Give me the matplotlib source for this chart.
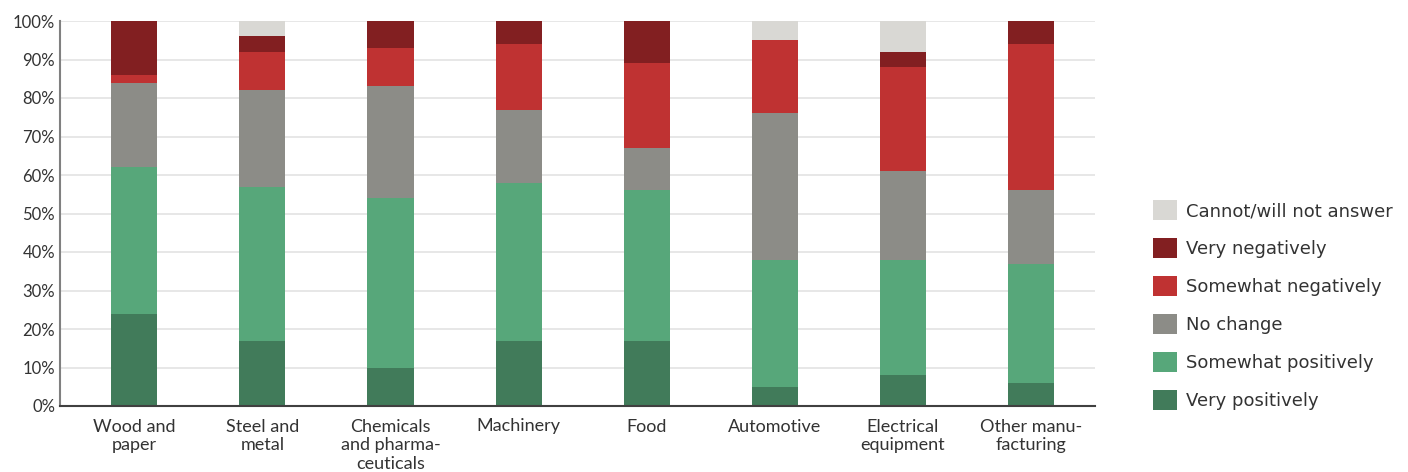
import matplotlib.pyplot as plt
import numpy as np

# Sectors and response shares (%)
sectors = ["Wood and\npaper", "Steel and\nmetal", "Chemicals\nand pharma-\nceuticals",
           "Machinery", "Food", "Automotive", "Electrical\nequipment", "Other manu-\nfacturing"]

very_pos = [24, 17, 10, 17, 17, 5, 8, 6]
some_pos = [38, 40, 44, 41, 39, 33, 30, 31]
no_change = [22, 25, 29, 19, 11, 38, 23, 19]
some_neg = [2, 10, 10, 17, 22, 19, 27, 38]
very_neg = [14, 4, 7, 6, 11, 0, 4, 6]
cannot = [0, 4, 0, 0, 0, 5, 8, 0]

labels = ["Very positively", "Somewhat positively", "No change",
          "Somewhat negatively", "Very negatively", "Cannot/will not answer"]
colors = ["#417B5A", "#57A77A", "#8C8C87", "#BF3232", "#821F21", "#D9D8D4"]
series = [very_pos, some_pos, no_change, some_neg, very_neg, cannot]

plt.rcParams['font.family'] = ['Lato', 'DejaVu Sans']

fig = plt.figure(figsize=(14.08, 4.72), dpi=100)
ax = fig.add_axes([60 / 1408, 1 - 406 / 472, 1035 / 1408, 385 / 472])

x = np.arange(len(sectors))
bottom = np.zeros(len(sectors))
handles = []
for vals, col, lab in zip(series, colors, labels):
    h = ax.bar(x, vals, width=0.36, bottom=bottom, color=col, label=lab,
               edgecolor='none', zorder=2)
    handles.append(h)
    bottom += np.array(vals)

ax.set_xlim(-0.58, 7.5)
ax.set_ylim(0, 100)
ax.set_yticks(np.arange(0, 101, 10))
ax.set_yticklabels([f"{v}%" for v in range(0, 101, 10)])
ax.yaxis.grid(True, color='#E3E3E3', linewidth=1.2, zorder=0)
ax.set_axisbelow(True)

ax.set_xticks(x)
ax.set_xticklabels(sectors, linespacing=1.2)

for side in ['top', 'right']:
    ax.spines[side].set_visible(False)
ax.spines['left'].set_color('#808080')
ax.spines['left'].set_linewidth(1.5)
ax.spines['bottom'].set_color('#404040')
ax.spines['bottom'].set_linewidth(1.5)
ax.tick_params(axis='both', length=0, labelsize=12, labelcolor='#333333')
ax.tick_params(axis='x', pad=9, labelsize=13)

leg = fig.legend(handles[::-1], labels[::-1], loc='upper left',
                 bbox_to_anchor=(1146 / 1408, 1 - 193 / 472), frameon=False,
                 prop={'family': 'DejaVu Sans', 'size': 13},
                 handlelength=1.3, handleheight=1.3,
                 labelspacing=1.0, handletextpad=0.5, borderaxespad=0)
for t in leg.get_texts():
    t.set_color('#333333')

fig.savefig("out.png", dpi=100)
